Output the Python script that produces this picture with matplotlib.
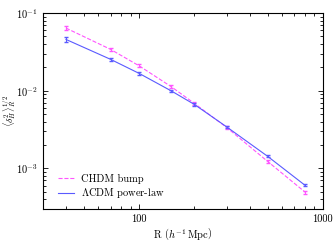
import numpy as np
import matplotlib
matplotlib.use('Agg')
import matplotlib.pyplot as plt

plt.rcParams['font.family'] = 'serif'
plt.rcParams['font.serif'] = ['cmr10', 'DejaVu Serif']
plt.rcParams['mathtext.fontset'] = 'cm'
plt.rcParams['axes.formatter.use_mathtext'] = True
plt.rcParams['font.size'] = 7.5

# scale R in h^-1 Mpc
radius = [40, 70, 100, 150, 200, 300, 500, 800]

# rms mass fluctuation for each model
chdm_sigma = [0.064, 0.034, 0.0209, 0.0112, 0.00684, 0.00335, 0.00123, 0.000494]
chdm_err = [0.004, 0.0018, 0.0009, 0.0005, 0.0003, 0.00013, 0.00005, 0.00002]
lcdm_sigma = [0.0457, 0.0253, 0.0167, 0.0099, 0.00664, 0.00341, 0.00143, 0.000604]
lcdm_err = [0.0028, 0.0013, 0.0007, 0.0004, 0.00025, 0.00012, 0.00005, 0.00002]

fig = plt.figure(figsize=(3.36, 2.41), dpi=100)
ax = fig.add_axes([0.128, 0.133, 0.833, 0.813])

chdm_col = '#ff55ff'
lcdm_col = '#5a5aff'
ax.errorbar(radius, chdm_sigma, yerr=chdm_err, color=chdm_col, ls='none',
            capsize=1.5, elinewidth=0.8)
ax.plot(radius, chdm_sigma, color=chdm_col, ls='--', lw=0.8, label='CHDM bump')
ax.errorbar(radius, lcdm_sigma, yerr=lcdm_err, color=lcdm_col, ls='none',
            capsize=1.5, elinewidth=0.8)
ax.plot(radius, lcdm_sigma, color=lcdm_col, ls='-', lw=0.8, label=r'$\Lambda$CDM power-law')

ax.set_xscale('log')
ax.set_yscale('log')
ax.set_xlim(30, 1000)
ax.set_ylim(3e-4, 1e-1)

ax.tick_params(which='both', direction='in', top=True, right=True, width=0.6, pad=4)
ax.tick_params(which='major', length=3.5)
ax.tick_params(which='minor', length=2)
for s in ax.spines.values():
    s.set_linewidth(0.8)
ax.xaxis.set_major_formatter(matplotlib.ticker.FuncFormatter(lambda v, p: f'{int(v)}'))

ax.set_xlabel(r'R $\left(h^{-1}\,\mathrm{Mpc}\right)$', labelpad=2)
ax.set_ylabel(r'$\langle \delta_H^2 \rangle_R^{1/2}$', fontsize=7)
ax.yaxis.set_label_coords(-0.09, 0.5)
ax.xaxis.set_label_coords(0.5, -0.085)

leg = ax.legend(loc='lower left', frameon=False, handlelength=1.6, borderaxespad=1.0,
                labelspacing=0.25, handletextpad=0.6, bbox_to_anchor=(0.0, -0.03))

fig.savefig('out.png', dpi=100)
